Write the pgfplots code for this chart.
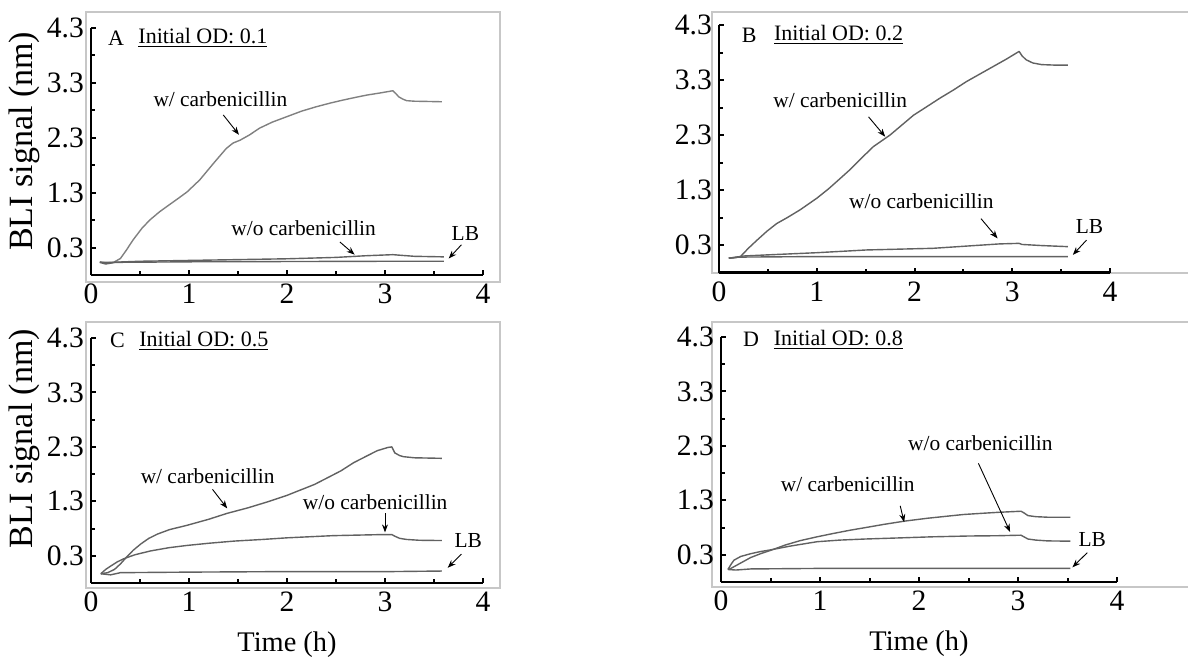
\documentclass[border=0pt]{standalone}
\usepackage{fontspec}
\setmainfont{Liberation Serif}
\usepackage{pgfplots}
\pgfplotsset{compat=1.18}
\usetikzlibrary{arrows.meta}
\newcommand\ann{\fontsize{10.7}{12}\selectfont}
\newcommand\plab{\fontsize{11}{12}\selectfont}
\tikzset{arr/.style={-{Stealth[length=4pt,width=3pt]}, line width=0.45pt, black}}
\pgfplotsset{
  panel/.style={
    scale only axis, width=196pt, height=123.75pt,
    xmin=0, xmax=4, ymin=-0.2, ymax=4.3,
    axis lines=left, axis line style={line width=1.3pt, -},
    xtick={0,1,2,3,4}, xticklabels={0,1,2,3,4},
    ytick={0.3,1.3,2.3,3.3,4.3}, yticklabels={0.3,1.3,2.3,3.3,4.3},
    minor xtick={0.5,1.5,2.5,3.5}, minor ytick={0.8,1.8,2.8,3.8},
    tick align=inside, major tick length=2.5pt, minor tick length=1.8pt,
    every tick/.style={line width=1pt, black},
    ticklabel style={font=\fontsize{14.8}{16}\selectfont, black},
    xticklabel style={yshift=-1pt},
    clip=false,
    xlabel style={at={(axis description cs:0.5,0)}, anchor=base, yshift=-34pt, font=\fontsize{14.2}{16}\selectfont},
  },
  cur/.style={line width=0.7pt, color=black!62, line join=round},
}
\begin{document}
\begin{tikzpicture}
\useasboundingbox (0,0) rectangle (594pt,-329.5pt);
\draw[black!22, line width=0.6pt] (43pt,-6pt) rectangle (250pt,-141pt);
\draw[black!22, line width=0.6pt] (356pt,-6pt) rectangle (600pt,-136.5pt);
\draw[black!22, line width=0.6pt] (43pt,-161pt) rectangle (250pt,-294pt);
\draw[black!22, line width=0.6pt] (356pt,-161pt) rectangle (600pt,-293.5pt);

% ---------------- Panel A ----------------
\begin{axis}[panel, at={(45.5pt,-137.5pt)}, anchor=south west,
  ylabel={BLI signal (nm)},
  ylabel style={at={(axis description cs:-0.148,0.54)}, anchor=base, font=\fontsize{17}{19}\selectfont}]
\addplot[cur, color=black!50] coordinates {
(0.09,0.04)(0.15,0.02)(0.23,0.03)(0.30,0.10)(0.36,0.25)(0.43,0.44)(0.52,0.65)(0.60,0.80)
(0.70,0.95)(0.77,1.04)(0.88,1.18)(0.98,1.31)(1.11,1.53)(1.25,1.83)(1.38,2.10)(1.45,2.20)
(1.52,2.25)(1.62,2.35)(1.72,2.47)(1.85,2.58)(2.00,2.68)(2.15,2.78)(2.30,2.86)(2.45,2.93)
(2.57,2.98)(2.70,3.03)(2.81,3.07)(2.95,3.11)(3.08,3.15)(3.11,3.10)(3.14,3.04)(3.18,3.00)
(3.22,2.97)(3.30,2.96)(3.45,2.955)(3.58,2.95)};
\addplot[cur] coordinates {
(0.09,0.03)(0.2,0.03)(0.5,0.05)(1.0,0.065)(1.5,0.08)(2.0,0.095)(2.5,0.12)(2.8,0.15)
(3.08,0.17)(3.15,0.16)(3.3,0.14)(3.6,0.13)};
\addplot[cur] coordinates {
(0.09,0.03)(0.15,0.00)(0.25,0.03)(1.0,0.04)(2.0,0.045)(3.08,0.05)(3.6,0.05)};
\node[inner sep=0, anchor=west, font=\plab] at (axis cs:0.17,4.11) {A};
\node[inner sep=0, anchor=west, font=\plab] at (axis cs:0.48,4.11) {\underline{Initial OD: 0.1}};
\node[font=\ann] at (axis cs:1.32,3.0) {w/ carbenicillin};
\draw[arr] (axis cs:1.35,2.71) -- (axis cs:1.51,2.35);
\node[font=\ann] at (axis cs:2.17,0.65) {w/o carbenicillin};
\draw[arr] (axis cs:2.54,0.40) -- (axis cs:2.69,0.17);
\node[font=\ann] at (axis cs:3.82,0.56) {LB};
\draw[arr] (axis cs:3.78,0.35) -- (axis cs:3.65,0.10);
\end{axis}

% ---------------- Panel B ----------------
\begin{axis}[panel, at={(359.5pt,-136.25pt)}, anchor=south west, width=195.5pt]
\addplot[cur] coordinates {
(0.10,0.06)(0.17,0.07)(0.22,0.09)(0.30,0.24)(0.39,0.39)(0.49,0.55)(0.59,0.69)(0.70,0.80)
(0.83,0.94)(1.00,1.15)(1.12,1.32)(1.24,1.51)(1.34,1.67)(1.44,1.85)(1.58,2.09)(1.75,2.30)
(1.87,2.48)(1.99,2.66)(2.13,2.82)(2.26,2.97)(2.40,3.12)(2.53,3.27)(2.66,3.40)(2.80,3.54)
(2.94,3.68)(3.07,3.82)(3.10,3.74)(3.14,3.67)(3.21,3.61)(3.30,3.58)(3.45,3.57)(3.57,3.57)};
\addplot[cur] coordinates {
(0.10,0.06)(0.25,0.10)(0.49,0.12)(1.0,0.16)(1.51,0.21)(2.19,0.24)(2.53,0.28)(2.87,0.32)
(3.07,0.33)(3.10,0.31)(3.3,0.29)(3.57,0.27)};
\addplot[cur] coordinates {
(0.10,0.06)(0.2,0.08)(1.0,0.09)(3.07,0.09)(3.57,0.09)};
\node[inner sep=0, anchor=west, font=\plab] at (axis cs:0.23,4.12) {B};
\node[inner sep=0, anchor=west, font=\plab] at (axis cs:0.56,4.12) {\underline{Initial OD: 0.2}};
\node[font=\ann] at (axis cs:1.24,2.94) {w/ carbenicillin};
\draw[arr] (axis cs:1.53,2.63) -- (axis cs:1.70,2.27);
\node[font=\ann] at (axis cs:2.07,1.09) {w/o carbenicillin};
\draw[arr] (axis cs:2.68,0.78) -- (axis cs:2.85,0.42);
\node[font=\ann] at (axis cs:3.79,0.63) {LB};
\draw[arr] (axis cs:3.76,0.39) -- (axis cs:3.62,0.12);
\end{axis}

% ---------------- Panel C ----------------
\begin{axis}[panel, at={(45.5pt,-291.5pt)}, anchor=south west, height=122.5pt,
  xlabel={Time (h)}, ylabel={BLI signal (nm)},
  ylabel style={at={(axis description cs:-0.148,0.59)}, anchor=base, font=\fontsize{17}{19}\selectfont}]
\addplot[cur] coordinates {
(0.10,-0.03)(0.17,-0.01)(0.24,0.05)(0.30,0.15)(0.36,0.27)(0.43,0.40)(0.51,0.52)(0.59,0.62)
(0.68,0.70)(0.80,0.78)(0.98,0.86)(1.20,0.97)(1.39,1.08)(1.60,1.18)(1.80,1.29)(2.00,1.41)
(2.14,1.51)(2.28,1.61)(2.41,1.73)(2.55,1.86)(2.68,2.01)(2.80,2.12)(2.92,2.23)(3.03,2.29)
(3.07,2.30)(3.10,2.19)(3.15,2.14)(3.19,2.12)(3.30,2.10)(3.58,2.09)};
\addplot[cur] coordinates {
(0.10,-0.03)(0.15,0.05)(0.20,0.11)(0.27,0.19)(0.34,0.25)(0.45,0.32)(0.61,0.39)(0.80,0.45)
(0.98,0.49)(1.20,0.53)(1.46,0.57)(1.75,0.60)(2.00,0.63)(2.47,0.67)(2.98,0.69)(3.07,0.69)
(3.10,0.66)(3.15,0.62)(3.22,0.60)(3.35,0.585)(3.58,0.58)};
\addplot[cur] coordinates {
(0.10,-0.03)(0.2,-0.05)(0.3,-0.01)(1.0,0.0)(2.0,0.01)(3.07,0.01)(3.58,0.02)};
\node[inner sep=0, anchor=west, font=\plab] at (axis cs:0.19,4.25) {C};
\node[inner sep=0, anchor=west, font=\plab] at (axis cs:0.49,4.25) {\underline{Initial OD: 0.5}};
\node[font=\ann] at (axis cs:1.19,1.76) {w/ carbenicillin};
\draw[arr] (axis cs:1.24,1.52) -- (axis cs:1.39,1.17);
\node[font=\ann] at (axis cs:2.90,1.29) {w/o carbenicillin};
\draw[arr] (axis cs:3.0,1.08) -- (axis cs:3.0,0.73);
\node[font=\ann] at (axis cs:3.85,0.58) {LB};
\draw[arr] (axis cs:3.78,0.33) -- (axis cs:3.64,0.08);
\end{axis}

% ---------------- Panel D ----------------
\begin{axis}[panel, at={(360.5pt,-291pt)}, anchor=south west, height=122.5pt, width=198pt,
  xlabel={Time (h)}]
\addplot[cur] coordinates {
(0.07,0.03)(0.10,0.05)(0.15,0.10)(0.22,0.17)(0.30,0.25)(0.40,0.32)(0.53,0.40)(0.65,0.48)
(0.80,0.56)(0.97,0.63)(1.13,0.69)(1.30,0.75)(1.46,0.80)(1.65,0.86)(1.86,0.92)(2.08,0.97)
(2.29,1.01)(2.45,1.04)(2.62,1.06)(2.80,1.08)(3.03,1.10)(3.06,1.07)(3.10,1.02)(3.18,1.00)
(3.30,0.99)(3.53,0.99)};
\addplot[cur] coordinates {
(0.07,0.03)(0.10,0.12)(0.13,0.20)(0.20,0.27)(0.30,0.32)(0.40,0.36)(0.50,0.39)(0.70,0.46)
(0.97,0.54)(1.20,0.57)(1.46,0.59)(1.80,0.61)(2.13,0.63)(2.50,0.645)(2.79,0.65)(3.03,0.66)
(3.06,0.63)(3.10,0.59)(3.18,0.57)(3.30,0.555)(3.53,0.55)};
\addplot[cur] coordinates {
(0.07,0.03)(0.15,0.02)(0.3,0.04)(1.0,0.05)(3.03,0.05)(3.53,0.05)};
\node[inner sep=0, anchor=west, font=\plab] at (axis cs:0.22,4.25) {D};
\node[inner sep=0, anchor=west, font=\plab] at (axis cs:0.53,4.25) {\underline{Initial OD: 0.8}};
\node[font=\ann] at (axis cs:1.28,1.60) {w/ carbenicillin};
\draw[arr] (axis cs:1.81,1.20) -- (axis cs:1.85,0.90);
\node[font=\ann] at (axis cs:2.62,2.35) {w/o carbenicillin};
\draw[arr] (axis cs:2.60,1.98) -- (axis cs:2.92,0.72);
\node[font=\ann] at (axis cs:3.75,0.58) {LB};
\draw[arr] (axis cs:3.70,0.34) -- (axis cs:3.55,0.07);
\end{axis}
\end{tikzpicture}
\end{document}
